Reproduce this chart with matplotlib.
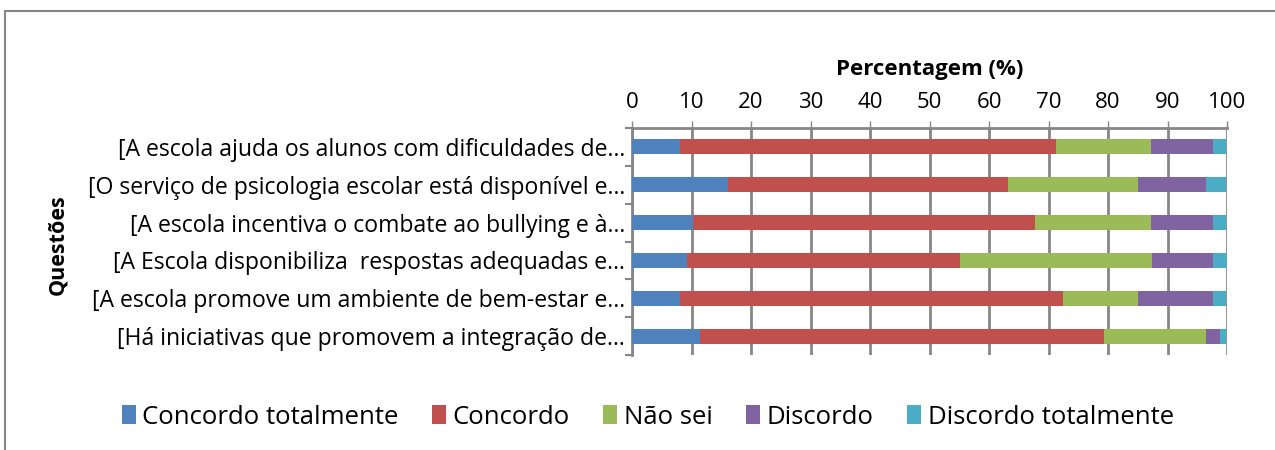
import matplotlib
matplotlib.use("Agg")
import matplotlib.pyplot as plt
from matplotlib.patches import Rectangle, Patch
import numpy as np

plt.rcParams["font.family"] = ["Open Sans", "DejaVu Sans"]

questions = [
    "[A escola ajuda os alunos com dificuldades de\u2026",
    "[O serviço de psicologia escolar está disponível e\u2026",
    "[A escola incentiva o combate ao bullying e à\u2026",
    "[A Escola disponibiliza  respostas adequadas e\u2026",
    "[A escola promove um ambiente de bem-estar e\u2026",
    "[Há iniciativas que promovem a integração de\u2026",
]
series = ["Concordo totalmente", "Concordo", "Não sei", "Discordo", "Discordo totalmente"]
colors = ["#4f81bd", "#c0504d", "#9bbb59", "#8064a2", "#4bacc6"]

concordo_tot = [8.0, 16.1, 10.3, 9.2, 8.0, 11.5]
concordo     = [63.2, 47.1, 57.5, 46.0, 64.4, 67.8]
nao_sei      = [16.1, 21.8, 19.5, 32.2, 12.6, 17.2]
discordo     = [10.3, 11.5, 10.3, 10.3, 12.6, 2.3]
discordo_tot = [2.3, 3.4, 2.3, 2.3, 2.3, 1.1]
values = [concordo_tot, concordo, nao_sei, discordo, discordo_tot]

GRID = "#868686"

fig = plt.figure(figsize=(12.75, 4.5), dpi=100)
ax = fig.add_axes([632 / 1275, 1 - 355 / 450, 595 / 1275, 227 / 450])

y = np.arange(len(questions))
left = np.zeros(len(questions))
for vals, col, name in zip(values, colors, series):
    ax.barh(y, vals, left=left, height=0.4, color=col, label=name, zorder=3)
    left += np.array(vals)

ax.set_xlim(0, 100)
ax.set_ylim(len(questions) - 0.5, -0.5)
ax.set_xticks(range(0, 101, 10))
ax.xaxis.tick_top()
ax.xaxis.set_label_position("top")
ax.xaxis.grid(True, color=GRID, linewidth=2, zorder=0)
ax.set_yticks(y)
ax.set_yticklabels(questions, fontsize=16.6)
ax.set_yticks(np.arange(-0.5, len(questions)), minor=True)
ax.tick_params(axis="y", which="major", length=0, pad=5)
ax.tick_params(axis="y", which="minor", length=5, color=GRID, width=1.5)
ax.tick_params(axis="x", length=5, color=GRID, width=1, labelsize=16, pad=6)
for s in ("bottom", "right"):
    ax.spines[s].set_visible(False)
for s in ("top", "left"):
    ax.spines[s].set_color(GRID)
    ax.spines[s].set_linewidth(2)

ax.set_xlabel("Percentagem (%)", fontsize=16, fontweight="bold", labelpad=12)
fig.text(58 / 1275, 1 - 245 / 450, "Questões", rotation=90, fontsize=15.5,
         fontweight="bold", ha="center", va="center")

handles = [Patch(facecolor=c, label=n) for c, n in zip(colors, series)]
fig.legend(handles=handles, loc="center", bbox_to_anchor=(0.508, 1 - 417 / 450),
           ncol=5, frameon=False, fontsize=18.5, handlelength=0.55, handleheight=0.75,
           handletextpad=0.25, columnspacing=1.3)

fig.patches.append(Rectangle((5 / 1275, -0.1), 1.2, 1 - 11 / 450 + 0.1,
                             transform=fig.transFigure, fill=False,
                             edgecolor=GRID, linewidth=1.5))

fig.savefig("out.png", dpi=100)
